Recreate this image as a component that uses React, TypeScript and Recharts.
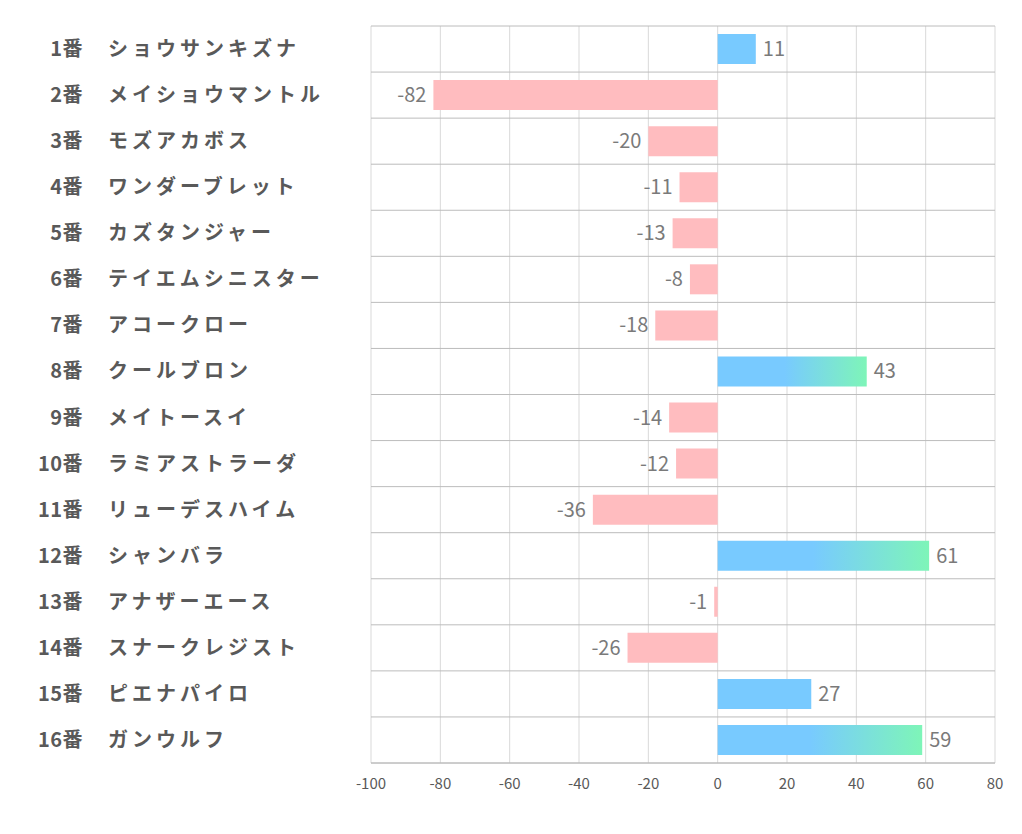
import { BarChart, Bar, XAxis, YAxis, CartesianGrid, Cell, LabelList } from "recharts";

const gateNumbers = ["1番", "2番", "3番", "4番", "5番", "6番", "7番", "8番", "9番", "10番", "11番", "12番", "13番", "14番", "15番", "16番"];
const horseNames = [
  "ショウサンキズナ",
  "メイショウマントル",
  "モズアカボス",
  "ワンダーブレット",
  "カズタンジャー",
  "テイエムシニスター",
  "アコークロー",
  "クールブロン",
  "メイトースイ",
  "ラミアストラーダ",
  "リューデスハイム",
  "シャンバラ",
  "アナザーエース",
  "スナークレジスト",
  "ピエナパイロ",
  "ガンウルフ",
];
const scores = [11, -82, -20, -11, -13, -8, -18, 43, -14, -12, -36, 61, -1, -26, 27, 59];
const xTicks = [-100, -80, -60, -40, -20, 0, 20, 40, 60, 80];

const data = scores.map((v, i) => ({ key: i, num: gateNumbers[i], name: horseNames[i], value: v }));

const FONT = '"Noto Sans CJK JP", "Noto Sans", sans-serif';
const PINK = "#ffbcbf";
const BLUE = "#78caff";

function HorseTick(props: any) {
  const { y, payload } = props;
  const row = data[payload.index] ?? data[payload.value];
  return (
    <g>
      <text x={75} y={y} dy={7} textAnchor="end" fontFamily={FONT} fontSize={20} fontWeight={700} fill="#595959" letterSpacing={0.5}>
        {row.num}
      </text>
      <text x={100} y={y} dy={7} textAnchor="start" fontFamily={FONT} fontSize={20} fontWeight={700} fill="#595959" letterSpacing={4}>
        {row.name}
      </text>
    </g>
  );
}

function ValueLabel(props: any) {
  const { x, y, width, height, value } = props;
  const left = Math.min(x, x + width);
  const right = Math.max(x, x + width);
  const neg = value < 0;
  return (
    <text
      x={neg ? left - 7 : right + 7}
      y={y + height / 2}
      dy={7}
      textAnchor={neg ? "end" : "start"}
      fontFamily={FONT}
      fontSize={20}
      fill="#7a7a7a"
    >
      {value}
    </text>
  );
}

export default function App() {
  return (
    <BarChart
      width={1006}
      height={818}
      data={data}
      layout="vertical"
      margin={{ top: 18, right: 19, bottom: 33, left: 0 }}
    >
      <defs>
        <linearGradient id="upGrad" x1="0" y1="0" x2="1" y2="0">
          <stop offset="0%" stopColor={BLUE} />
          <stop offset="45%" stopColor={BLUE} />
          <stop offset="100%" stopColor="#7ef5b8" />
        </linearGradient>
      </defs>
      <CartesianGrid stroke="#d9d9d9" horizontal={false} />
      <CartesianGrid
        stroke="#bcbcbc"
        vertical={false}
        horizontalCoordinatesGenerator={({ offset }: any) =>
          data.map((_, i) => offset.top + (i * offset.height) / data.length).concat(offset.top + offset.height)
        }
      />
      <XAxis
        type="number"
        domain={[-100, 80]}
        ticks={xTicks}
        interval={0}
        tickLine={false}
        axisLine={{ stroke: "#bcbcbc" }}
        tickMargin={9}
        height={30}
        tick={{ fontFamily: FONT, fontSize: 15, fill: "#595959" }}
      />
      <YAxis
        type="category"
        dataKey="key"
        width={363}
        axisLine={false}
        tickLine={false}
        interval={0}
        tick={<HorseTick />}
      />
      <Bar dataKey="value" barSize={30} isAnimationActive={false}>
        {data.map((d) => (
          <Cell key={d.key} fill={d.value < 0 ? PINK : d.value >= 40 ? "url(#upGrad)" : BLUE} />
        ))}
        <LabelList dataKey="value" content={<ValueLabel />} />
      </Bar>
    </BarChart>
  );
}
